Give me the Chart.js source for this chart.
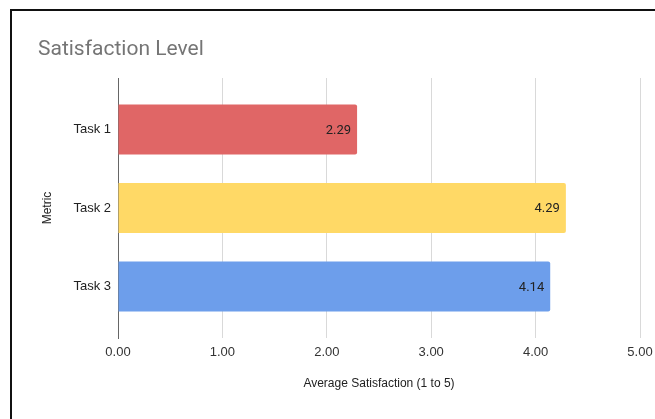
<!DOCTYPE html>
<html>
<head>
<meta charset="utf-8">
<script src="https://cdn.jsdelivr.net/npm/chart.js@4.4.1/dist/chart.umd.min.js"></script>
<style>
  html, body { margin: 0; padding: 0; background: #fff; }
  #wrap { position: relative; width: 655px; height: 419px; overflow: hidden; }
  #frame {
    position: absolute; left: 10px; top: 9px; width: 700px; height: 500px;
    border-top: 2px solid #111; border-left: 2px solid #111;
    pointer-events: none;
  }
</style>
</head>
<body>
<div id="wrap">
  <canvas id="satisfactionChart" width="655" height="419"></canvas>
  <div id="frame"></div>
</div>
<script>
const categories = ["Task 1", "Task 2", "Task 3"];
const satisfaction = [2.29, 4.29, 4.14];
const barColors = ["#e06666", "#ffd966", "#6d9eeb"];
const xTickValues = [0, 1, 2, 3, 4, 5];

const tickFont = { family: "'Liberation Sans', Arial, sans-serif", size: 13 };

// value labels drawn at the end of each bar
const barLabels = {
  id: "barLabels",
  afterDatasetsDraw(chart) {
    const ctx = chart.ctx;
    const meta = chart.getDatasetMeta(0);
    ctx.save();
    ctx.font = "13px Roboto, sans-serif";
    ctx.fillStyle = "#222";
    ctx.textAlign = "right";
    ctx.textBaseline = "middle";
    meta.data.forEach((bar, i) => {
      ctx.fillText(satisfaction[i].toFixed(2), bar.x - 6, bar.y + 1);
    });
    ctx.restore();
  }
};

const ctx = document.getElementById("satisfactionChart").getContext("2d");

new Chart(ctx, {
  type: "bar",
  data: {
    datasets: [
      {
        data: satisfaction.map((v, i) => ({ x: v, y: i })),
        backgroundColor: barColors,
        borderRadius: 2,
        borderSkipped: "start",
        barPercentage: 0.637,
        categoryPercentage: 1
      }
    ]
  },
  options: {
    indexAxis: "y",
    responsive: false,
    animation: false,
    layout: {
      padding: { left: 38, right: 15, top: 0, bottom: 28 }
    },
    plugins: {
      legend: { display: false },
      tooltip: { enabled: false },
      title: {
        display: true,
        text: "Satisfaction Level",
        align: "start",
        color: "#757575",
        font: { family: "Roboto, sans-serif", size: 21, weight: "normal" },
        padding: { top: 37, bottom: 15.8 }
      }
    },
    scales: {
      x: {
        type: "linear",
        min: 0,
        max: 5,
        afterBuildTicks: scale => {
          scale.ticks = xTickValues.map(v => ({ value: v }));
        },
        afterFit: scale => {
          scale.height = 53;
          scale.paddingRight = 0;
        },
        border: { display: false },
        grid: { color: "#d9d9d9", drawTicks: false },
        ticks: {
          padding: 7,
          color: "#333",
          font: tickFont,
          callback: value => value.toFixed(2)
        },
        title: {
          display: true,
          text: "Average Satisfaction (1 to 5)",
          color: "#222",
          font: { family: "'Liberation Sans', Arial, sans-serif", size: 12 },
          padding: { top: 0, bottom: 0 }
        }
      },
      y: {
        type: "linear",
        reverse: true,
        offset: false,
        min: -0.655,
        max: 2.655,
        afterBuildTicks: scale => {
          scale.ticks = categories.map((c, i) => ({ value: i }));
        },
        afterFit: scale => {
          scale.width = 80;
        },
        border: { display: true, color: "#666", width: 1 },
        grid: { display: false, drawTicks: false, offset: false },
        ticks: {
          padding: 7,
          color: "#222",
          font: tickFont,
          callback: value => categories[value]
        },
        title: {
          display: true,
          text: "Metric",
          color: "#222",
          font: { family: "'Liberation Sans', Arial, sans-serif", size: 12 },
          padding: { top: 2, bottom: 0 }
        }
      }
    }
  },
  plugins: [barLabels]
});
</script>
</body>
</html>
